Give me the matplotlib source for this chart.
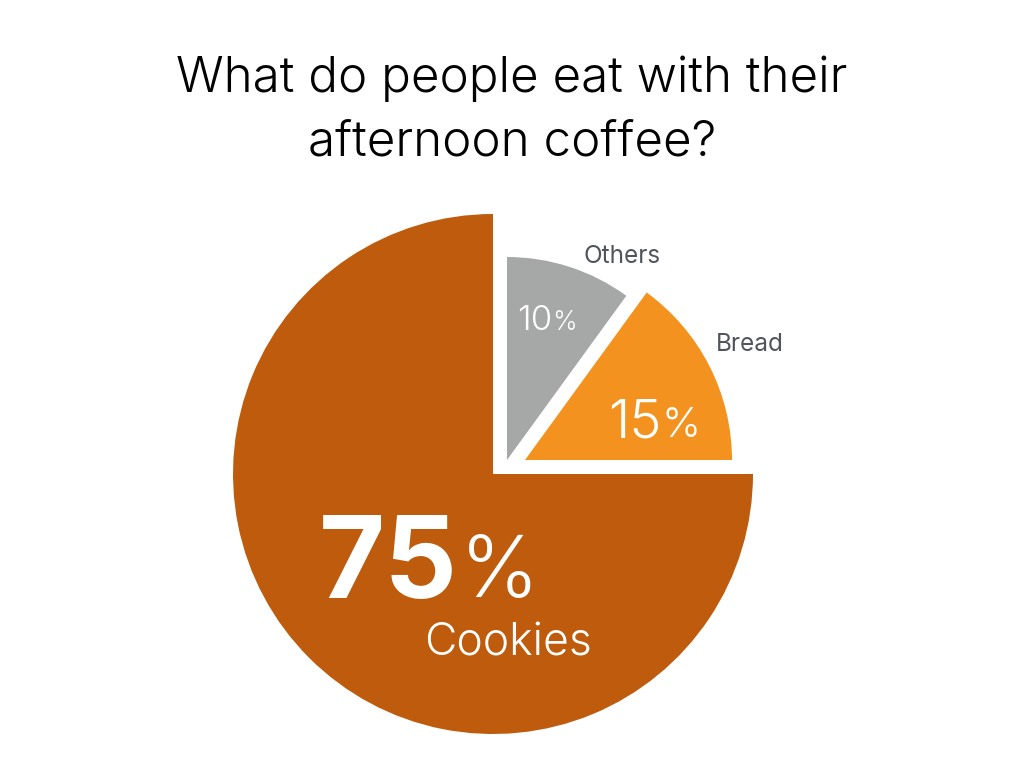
import matplotlib
matplotlib.use("Agg")
import matplotlib.pyplot as plt

categories = ["Bread", "Others", "Cookies"]
values = [15, 10, 75]
colors = ["#F3921F", "#A6A8A7", "#BE5B0C"]

W, H = 1024, 768
fig = plt.figure(figsize=(10.24, 7.68), dpi=100)
ax = fig.add_axes([0, 0, 1, 1])

def Y(y):
    return H - y

wedges, _ = ax.pie(values, colors=colors, startangle=0, counterclock=True,
                   center=(493, Y(474)), radius=260,
                   wedgeprops=dict(linewidth=0))
# small slices: smaller radius and offset
wedges[0].set_center((525, Y(460)))
wedges[0].set_radius(207)
wedges[1].set_center((507, Y(460)))
wedges[1].set_radius(203)

ax.set_xlim(0, W)
ax.set_ylim(0, H)
ax.set_aspect("equal")
ax.axis("off")

fam = ["Inter", "DejaVu Sans"]
labc = "#50555C"

ax.text(512, Y(92), "What do people eat with their", ha="center", va="baseline",
        fontsize=35.5, family=fam, color="black", fontweight=300)
ax.text(512, Y(156), "afternoon coffee?", ha="center", va="baseline",
        fontsize=35.5, family=fam, color="black", fontweight=300)

ax.text(622, Y(263), categories[1], ha="center", va="baseline", fontsize=17.5,
        family=fam, color=labc, fontweight=400)
ax.text(750, Y(351), categories[0], ha="center", va="baseline", fontsize=17.5,
        family=fam, color=labc, fontweight=400)

# 10%
ax.text(552, Y(330), f"{values[1]}", ha="right", va="baseline", fontsize=25,
        family=fam, color="white", fontweight=300)
ax.text(552, Y(330), "%", ha="left", va="baseline", fontsize=19,
        family=fam, color="white", fontweight=300)
# 15%
ax.text(662, Y(437), f"{values[0]}", ha="right", va="baseline", fontsize=39,
        family=fam, color="white", fontweight=300)
ax.text(662, Y(437), "%", ha="left", va="baseline", fontsize=30,
        family=fam, color="white", fontweight=300)
# 75%
ax.text(458, Y(598), f"{values[2]}", ha="right", va="baseline", fontsize=82,
        family=fam, color="white", fontweight=700)
ax.text(460, Y(597), "%", ha="left", va="baseline", fontsize=61,
        family=fam, color="white", fontweight=300)
ax.text(508, Y(655), categories[2], ha="center", va="baseline", fontsize=32,
        family=fam, color="white", fontweight=300)

fig.savefig("out.png", dpi=100)
